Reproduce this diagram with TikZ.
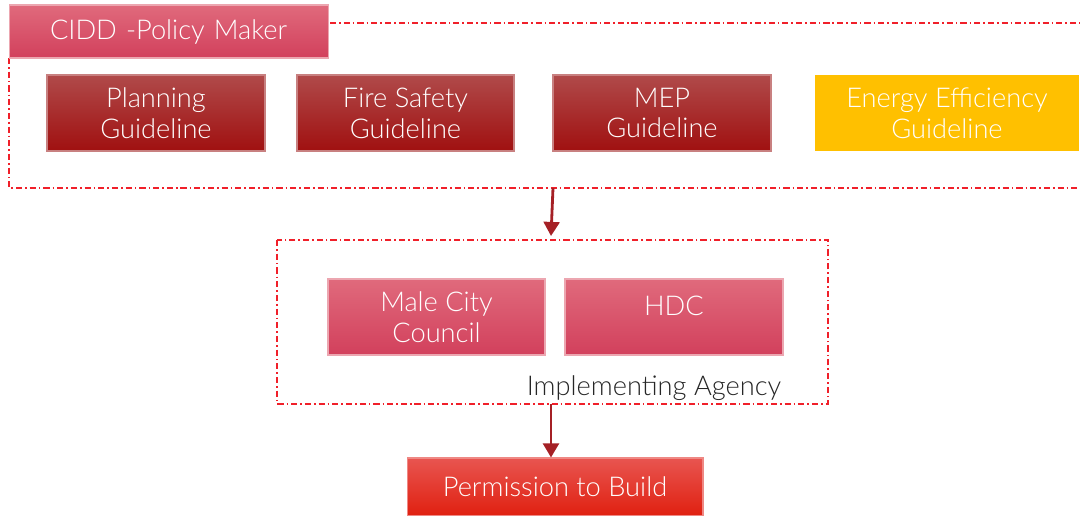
\documentclass[tikz,border=0pt]{standalone}
\usepackage{fontspec}
\setmainfont{Lato Light}
\usetikzlibrary{arrows.meta}
\definecolor{pinkT}{HTML}{E06A7C}
\definecolor{pinkB}{HTML}{D2405C}
\definecolor{darkT}{HTML}{B04A4A}
\definecolor{darkB}{HTML}{A01010}
\definecolor{gold}{HTML}{FFC000}
\definecolor{redT}{HTML}{E85550}
\definecolor{redB}{HTML}{E02010}
\definecolor{dashred}{HTML}{F0202A}
\definecolor{arrowred}{HTML}{A52025}
\tikzset{
  box/.style={rectangle, inner sep=0pt, text=white, align=center,
    font=\fontsize{15.5}{17.5}\selectfont},
  pinkbox/.style={box, top color=pinkT, bottom color=pinkB, draw=pinkT!60!white, line width=0.6pt},
  darkbox/.style={box, top color=darkT, bottom color=darkB, draw=darkT!70!white, line width=0.6pt},
  goldbox/.style={box, fill=gold},
  redbox/.style={box, top color=redT, bottom color=redB, draw=redT!70!white, line width=0.6pt},
  dashline/.style={draw=dashred, line width=0.8pt, dash pattern=on 3.5pt off 1.7pt on 0.9pt off 1.7pt},
  flow/.style={draw=arrowred, line width=1.6pt, -{Triangle[length=8pt,width=9pt]}},
}
\begin{document}
\begin{tikzpicture}[x=0.02cm, y=-0.02cm]
\useasboundingbox (0,0) rectangle (1080,516);
% outer dashed region (top)
\draw[dashline] (330,23) -- (1080,23);
\draw[dashline] (9,58) -- (9,188) -- (1080,188);
% middle dashed region
\draw[dashline] (277,240) rectangle (828,404);
\node[pinkbox, minimum width=6.4cm, minimum height=1.06cm, text width=6.4cm, align=left] (cidd) at (169,31.5) {\hspace*{0.82cm}CIDD -Policy Maker};
\node[darkbox, minimum width=4.36cm, minimum height=1.52cm] (plan) at (156,113) {Planning\\Guideline};
\node[darkbox, minimum width=4.34cm, minimum height=1.52cm] (fire) at (405.5,113) {Fire Safety\\Guideline};
\node[darkbox, minimum width=4.36cm, minimum height=1.52cm] (mep) at (662,113) {MEP\\Guideline};
\node[goldbox, minimum width=5.3cm, minimum height=1.52cm] (energy) at (947,113) {Energy Efficiency\\Guideline};
\coordinate (topbot) at (553,188);
\coordinate (midtop) at (551,236);
\draw[flow] (topbot) -- (midtop);
\node[pinkbox, minimum width=4.34cm, minimum height=1.52cm] (male) at (436.5,317) {Male City\\Council};
\node[pinkbox, minimum width=4.36cm, minimum height=1.52cm, text depth=0.45cm] (hdc) at (674,317) {HDC};
\node[font=\fontsize{15.5}{17}\selectfont, text=black!85, inner sep=0pt] (impl) at (654,388) {Implementing Agency};
\coordinate (midbot) at (551,404);
\node[redbox, minimum width=5.92cm, minimum height=1.16cm] (perm) at (555,487) {Permission to Build};
\draw[flow] (midbot) -- (perm.north -| midbot);
\end{tikzpicture}
\end{document}
